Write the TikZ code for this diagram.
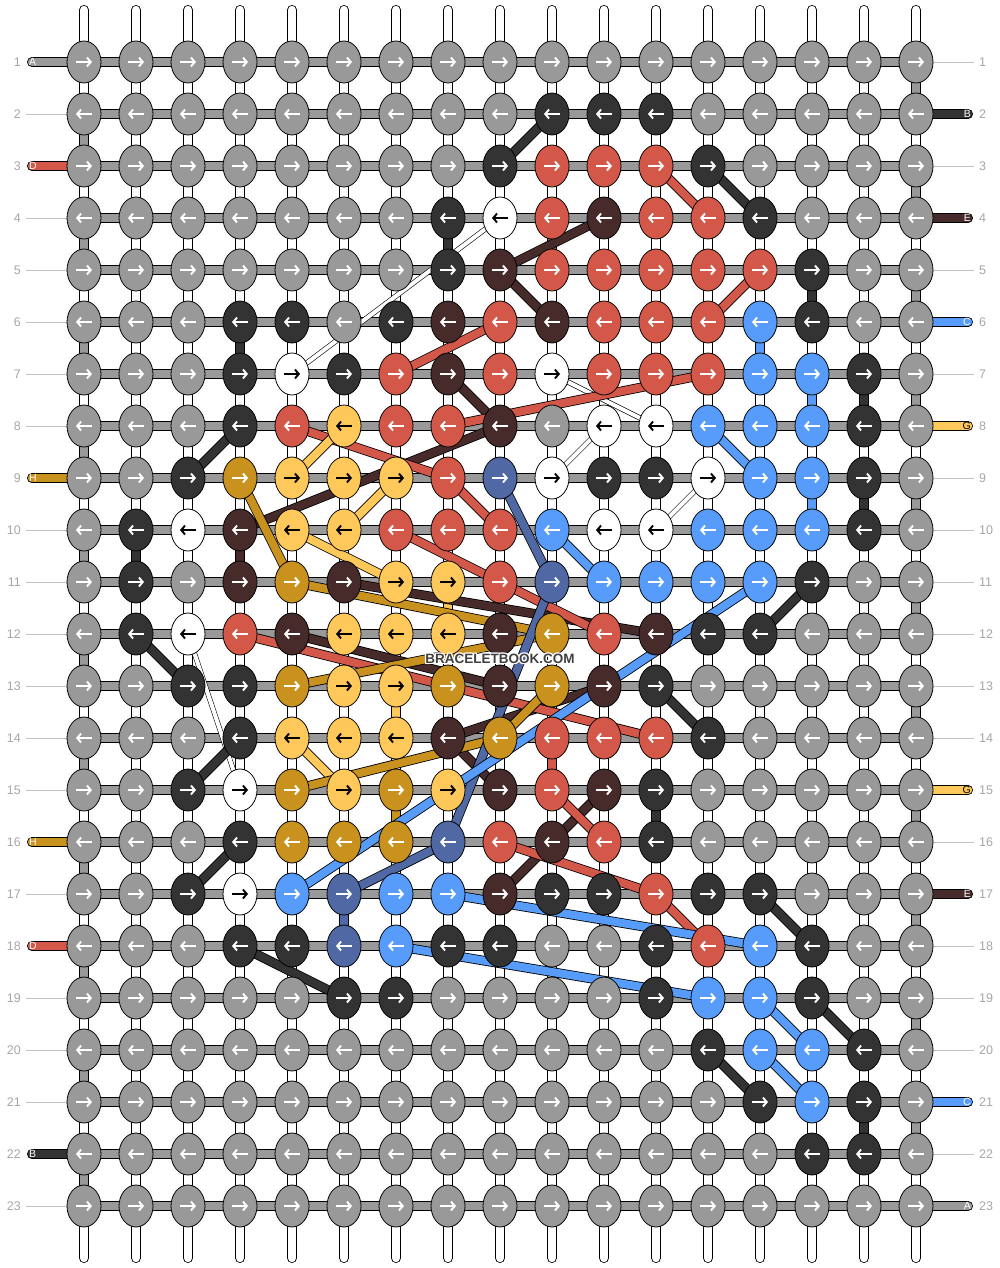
\documentclass[tikz,border=0pt]{standalone}
\usepackage{fontspec}
\setmainfont{Liberation Sans}
\usepackage{tikz}
\usetikzlibrary{shapes.geometric}
\usetikzlibrary{arrows.meta}

\definecolor{colg}{HTML}{999999}
\definecolor{colk}{HTML}{333333}
\definecolor{colr}{HTML}{D4584A}
\definecolor{colw}{HTML}{FFFFFF}
\definecolor{coly}{HTML}{FFC85A}
\definecolor{colo}{HTML}{C9921F}
\definecolor{coln}{HTML}{472B2B}
\definecolor{colb}{HTML}{579CFB}
\definecolor{cold}{HTML}{5068A3}
\colorlet{arrg}{white}
\colorlet{arrk}{white}
\colorlet{arrr}{white}
\colorlet{arrw}{black}
\colorlet{arry}{black}
\colorlet{arro}{white}
\colorlet{arrn}{white}
\colorlet{arrb}{white}
\colorlet{arrd}{white}

\pgfdeclarelayer{warp}
\pgfdeclarelayer{threads}
\pgfsetlayers{warp,threads,main}

\tikzset{
  knot/.style={ellipse, draw=black, line width=0.8pt, minimum width=34pt, minimum height=42pt, inner sep=0pt},
  rod/.style={draw=black, double=white, double distance=8.4pt, line width=0.8pt, line cap=round},
  rodline/.style={draw=black!18, double=white, double distance=1.8pt, line width=0.5pt},
  bar/.style={draw=black, double=#1, double distance=8.4pt, line width=0.8pt},
  stub/.style={draw=black, double=#1, double distance=8.4pt, line width=0.8pt, line cap=round},
  thread/.style={draw=black, double=#1, double distance=8pt, line width=0.8pt},
  whitethread/.style={draw=black, double=white, double distance=4pt, line width=0.6pt},
  tip/.style={line width=1.9pt, -{Straight Barb[length=3.8pt,width=9pt]}},
  rowline/.style={draw=black!25, line width=0.8pt},
  rownum/.style={text=black!35, font=\fontsize{12.5}{14}\selectfont, inner sep=0pt},
  tag/.style={font=\fontsize{10.5}{12}\selectfont, inner sep=0pt},
  watermark/.style={font=\fontsize{13.5}{15}\selectfont\bfseries, inner sep=0pt}
}

\begin{document}
\begin{tikzpicture}[x=1pt,y=-1pt]
  \useasboundingbox (0,0) rectangle (1000,1268);

  \foreach \r/\row in {
    1/{g,g,g,g,g,g,g,g,g,g,g,g,g,g,g,g,g},
    2/{g,g,g,g,g,g,g,g,g,k,k,k,g,g,g,g,g},
    3/{g,g,g,g,g,g,g,g,k,r,r,r,k,g,g,g,g},
    4/{g,g,g,g,g,g,g,k,w,r,n,r,r,k,g,g,g},
    5/{g,g,g,g,g,g,g,k,n,r,r,r,r,r,k,g,g},
    6/{g,g,g,k,k,g,k,n,r,n,r,r,r,b,k,g,g},
    7/{g,g,g,k,w,k,r,n,r,w,r,r,r,b,b,k,g},
    8/{g,g,g,k,r,y,r,r,n,g,w,w,b,b,b,k,g},
    9/{g,g,k,o,y,y,y,r,d,w,k,k,w,b,b,k,g},
    10/{g,k,w,n,y,y,r,r,r,b,w,w,b,b,b,k,g},
    11/{g,k,g,n,o,n,y,y,r,d,b,b,b,b,k,g,g},
    12/{g,k,w,r,n,y,y,y,n,o,r,n,k,k,g,g,g},
    13/{g,g,k,k,o,y,y,o,n,o,n,k,g,g,g,g,g},
    14/{g,g,g,k,y,y,y,n,o,r,r,r,k,g,g,g,g},
    15/{g,g,k,w,o,y,o,y,n,r,n,k,g,g,g,g,g},
    16/{g,g,g,k,o,o,o,d,r,n,r,k,g,g,g,g,g},
    17/{g,g,k,w,b,d,b,b,n,k,k,r,k,k,g,g,g},
    18/{g,g,g,k,k,d,b,k,k,g,g,k,r,b,k,g,g},
    19/{g,g,g,g,g,k,k,g,g,g,g,k,b,b,k,g,g},
    20/{g,g,g,g,g,g,g,g,g,g,g,g,k,b,b,k,g},
    21/{g,g,g,g,g,g,g,g,g,g,g,g,g,k,b,k,g},
    22/{g,g,g,g,g,g,g,g,g,g,g,g,g,g,k,k,g},
    23/{g,g,g,g,g,g,g,g,g,g,g,g,g,g,g,g,g}} {
    \foreach \c [count=\i] in \row {
      \node[knot, fill=col\c] (k-\r-\i) at ({84+52*(\i-1)},{62+52*(\r-1)}) {};
      \ifodd\r\relax
        \draw[tip, draw=arr\c] ([xshift=-8pt]k-\r-\i.center) -- ([xshift=8pt]k-\r-\i.center);
      \else
        \draw[tip, draw=arr\c] ([xshift=8pt]k-\r-\i.center) -- ([xshift=-8pt]k-\r-\i.center);
      \fi
    }
    \coordinate (ls-\r) at ([xshift=-52pt]k-\r-1.center);
    \coordinate (rs-\r) at ([xshift=52pt]k-\r-17.center);
    \node[rownum, anchor=east] (ln-\r) at ([xshift=-63pt]k-\r-1.center) {\r};
    \node[rownum, anchor=west] (rn-\r) at ([xshift=63pt]k-\r-17.center) {\r};
  }

  \begin{pgfonlayer}{warp}
    \foreach \i in {1,...,17} {
      \coordinate (top-\i) at ([yshift=52pt]k-1-\i.center);
      \coordinate (bot-\i) at ([yshift=-52pt]k-23-\i.center);
      \draw[rod] (top-\i) -- (bot-\i);
      \draw[rodline] (top-\i) -- (bot-\i);
    }
    \foreach \r in {1,...,23} {
      \draw[bar=colg] (k-\r-1.center) -- (k-\r-17.center);
    }
    \foreach \r in {2,4,5,6,7,8,10,11,12,13,14,15,17,19,20,21,23} {
      \draw[rowline] (k-\r-1.center) -- ([xshift=-6pt]ls-\r);
    }
    \foreach \r in {1,3,5,7,9,10,11,12,13,14,16,18,19,20,22} {
      \draw[rowline] (k-\r-17.center) -- ([xshift=6pt]rs-\r);
    }
    \foreach \r/\col in {1/colg,3/colr,9/colo,16/colo,18/colr,22/colk} {
      \draw[stub=\col] (k-\r-1.center) -- (ls-\r);
    }
    \foreach \r/\col in {2/colk,4/coln,6/colb,8/coly,15/coly,17/coln,21/colb,23/colg} {
      \draw[stub=\col] (k-\r-17.center) -- (rs-\r);
    }
    \foreach \r [evaluate=\r as \s using int(\r+1)] in {2,4,...,22} {
      \draw[bar=colg] (k-\r-1.center) -- (k-\s-1.center);
    }
    \foreach \r [evaluate=\r as \s using int(\r+1)] in {1,3,...,21} {
      \draw[bar=colg] (k-\r-17.center) -- (k-\s-17.center);
    }
    \foreach \col/\a/\b in {colk/4-8/5-8, colr/4-10/5-10, colk/5-15/6-15,
        colk/6-4/7-4, colb/6-14/7-14, colb/7-15/8-15, colk/7-16/8-16,
        colb/9-15/10-15, colk/9-16/10-16, colk/10-2/11-2, coln/10-4/11-4,
        coly/11-8/12-8, coly/13-7/14-7, colr/14-10/15-10, colo/15-7/16-7,
        colk/15-12/16-12, cold/17-6/18-6, colk/21-16/22-16} {
      \draw[bar=\col] (k-\a.center) -- (k-\b.center);
    }
  \end{pgfonlayer}

  \begin{pgfonlayer}{threads}
    \foreach \a/\b in {4-9/7-5, 7-10/8-12, 8-11/9-10, 9-13/10-12, 12-3/15-4} {
      \draw[whitethread] (k-\a.center) -- (k-\b.center);
    }
    \foreach \col/\a/\b in {
        colk/2-10/3-9, colk/3-13/4-14, colk/8-4/9-3, colk/11-15/12-14,
        colk/12-2/13-3, colk/13-12/14-13, colk/14-4/15-3, colk/16-4/17-3,
        colk/17-14/18-15, colk/18-4/19-6, colk/19-15/20-16, colk/20-13/21-14,
        coln/4-11/5-9, coln/5-9/6-10, coln/7-8/8-9, coln/8-9/10-4,
        coln/11-6/12-12, coln/12-5/13-9, coln/14-8/13-11, coln/14-8/15-9,
        coln/15-11/17-9,
        colr/3-12/4-13, colr/5-14/6-13, colr/6-9/7-7, colr/8-8/7-13,
        colr/8-5/9-8, colr/9-8/10-9, colr/10-7/11-9, colr/11-9/12-11,
        colr/12-4/14-12, colr/15-10/16-11, colr/16-9/17-12, colr/17-12/18-13,
        coly/8-6/9-5, coly/9-7/10-6, coly/10-5/11-7, coly/14-5/15-6,
        colo/9-4/11-5, colo/11-5/12-10, colo/13-5/12-10, colo/15-5/14-9,
        colo/13-10/14-9,
        cold/9-9/11-10, cold/11-10/16-8, cold/16-8/17-6,
        colb/8-13/9-14, colb/10-10/11-11, colb/11-14/17-5, colb/17-8/18-14,
        colb/18-7/19-13, colb/19-14/20-15, colb/20-14/21-15} {
      \draw[thread=\col] (k-\a.center) -- (k-\b.center);
    }
  \end{pgfonlayer}

  \node[tag, text=white, anchor=west] (tl-1) at ([xshift=-3pt]ls-1) {A};
  \node[tag, text=white, anchor=west] (tl-3) at ([xshift=-3pt]ls-3) {D};
  \node[tag, text=white, anchor=west] (tl-9) at ([xshift=-3pt]ls-9) {H};
  \node[tag, text=white, anchor=west] (tl-16) at ([xshift=-3pt]ls-16) {H};
  \node[tag, text=white, anchor=west] (tl-18) at ([xshift=-3pt]ls-18) {D};
  \node[tag, text=white, anchor=west] (tl-22) at ([xshift=-3pt]ls-22) {B};
  \node[tag, text=white, anchor=east] (tr-2) at ([xshift=3pt]rs-2) {B};
  \node[tag, text=white, anchor=east] (tr-4) at ([xshift=3pt]rs-4) {E};
  \node[tag, text=white, anchor=east] (tr-6) at ([xshift=3pt]rs-6) {C};
  \node[tag, text=black, anchor=east] (tr-8) at ([xshift=3pt]rs-8) {G};
  \node[tag, text=black, anchor=east] (tr-15) at ([xshift=3pt]rs-15) {G};
  \node[tag, text=white, anchor=east] (tr-17) at ([xshift=3pt]rs-17) {E};
  \node[tag, text=white, anchor=east] (tr-21) at ([xshift=3pt]rs-21) {C};
  \node[tag, text=white, anchor=east] (tr-23) at ([xshift=3pt]rs-23) {A};

  \foreach \dx/\dy [count=\n] in {1.2/0,-1.2/0,0/1.2,0/-1.2,1/1,-1/1,1/-1,-1/-1} {
    \node[watermark, text=white] (wm-\n) at ([xshift=\dx pt,yshift=\dy pt-25pt]k-12-9.center) {BRACELETBOOK.COM};
  }
  \node[watermark, text=black!75] (wm) at ([yshift=-25pt]k-12-9.center) {BRACELETBOOK.COM};
\end{tikzpicture}
\end{document}
